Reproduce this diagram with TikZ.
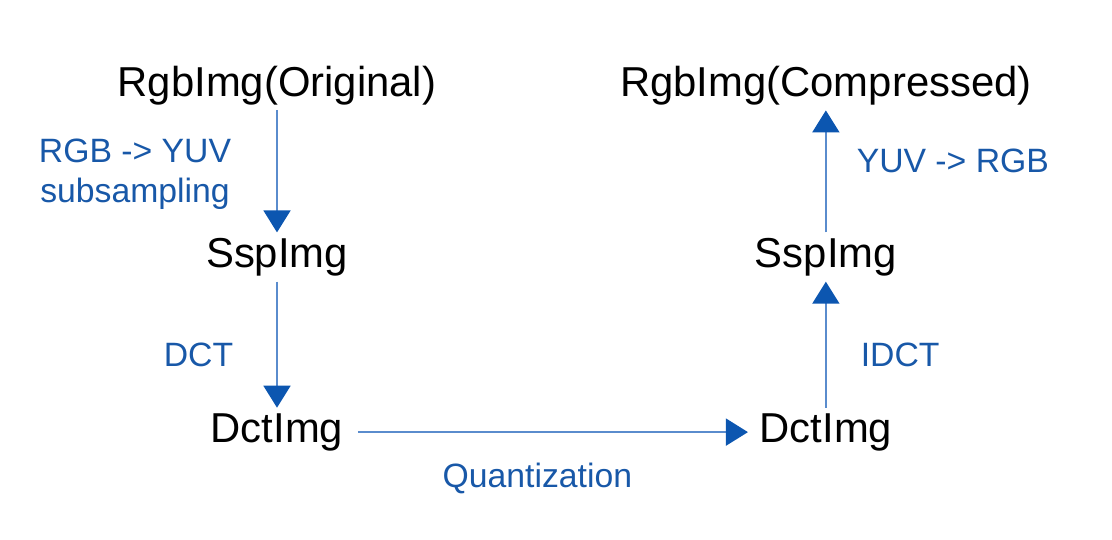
\documentclass[tikz,border=0pt]{standalone}
\usepackage{fontspec}
\setmainfont{Liberation Sans}
\usetikzlibrary{arrows.meta, positioning}

\definecolor{labelblue}{RGB}{24,88,168}
\definecolor{lineblue}{RGB}{90,140,205}
\definecolor{headblue}{RGB}{12,86,176}

\begin{document}
\begin{tikzpicture}[
  img/.style={inner sep=0.05cm, font=\fontsize{11.9}{14}\selectfont},
  lbl/.style={inner sep=0.05cm, align=center, text=labelblue,
              font=\fontsize{9.6}{11.4}\selectfont},
  arr/.style={draw=lineblue, line width=0.5pt,
              -{Triangle[length=0.22cm, width=0.27cm, color=headblue]}},
  node distance=1.22cm and 4.05cm
]
  \useasboundingbox (0,0) rectangle (11.12,-5.39);

  \node[img, anchor=base] (orig) at (2.77,-0.96) {RgbImg(Original)};
  \node[img, below=of orig]        (ssp1) {SspImg};
  \node[img, below=1.26cm of ssp1] (dct1) {DctImg};
  \node[img, right=of dct1]        (dct2) {DctImg};
  \node[img, above=1.26cm of dct2] (ssp2) {SspImg};
  \node[img, above=of ssp2]        (comp) {RgbImg(Compressed)};

  \draw[arr] (orig) -- (ssp1)
       node[lbl, midway, left=0.40cm, yshift=-0.03cm] {RGB -> YUV\\subsampling};
  \draw[arr] (ssp1) -- (dct1)
       node[lbl, midway, left=0.38cm, yshift=-0.1cm] {DCT};
  \draw[arr, shorten <=0.09cm, shorten >=0.06cm] (dct1) -- (dct2)
       node[lbl, midway, below=0.25cm, xshift=-0.14cm] {Quantization};
  \draw[arr] (dct2) -- (ssp2)
       node[lbl, midway, right=0.29cm, yshift=-0.1cm] {IDCT};
  \draw[arr] (ssp2) -- (comp)
       node[lbl, midway, right=0.25cm, yshift=0.11cm] {YUV -> RGB};
\end{tikzpicture}
\end{document}
